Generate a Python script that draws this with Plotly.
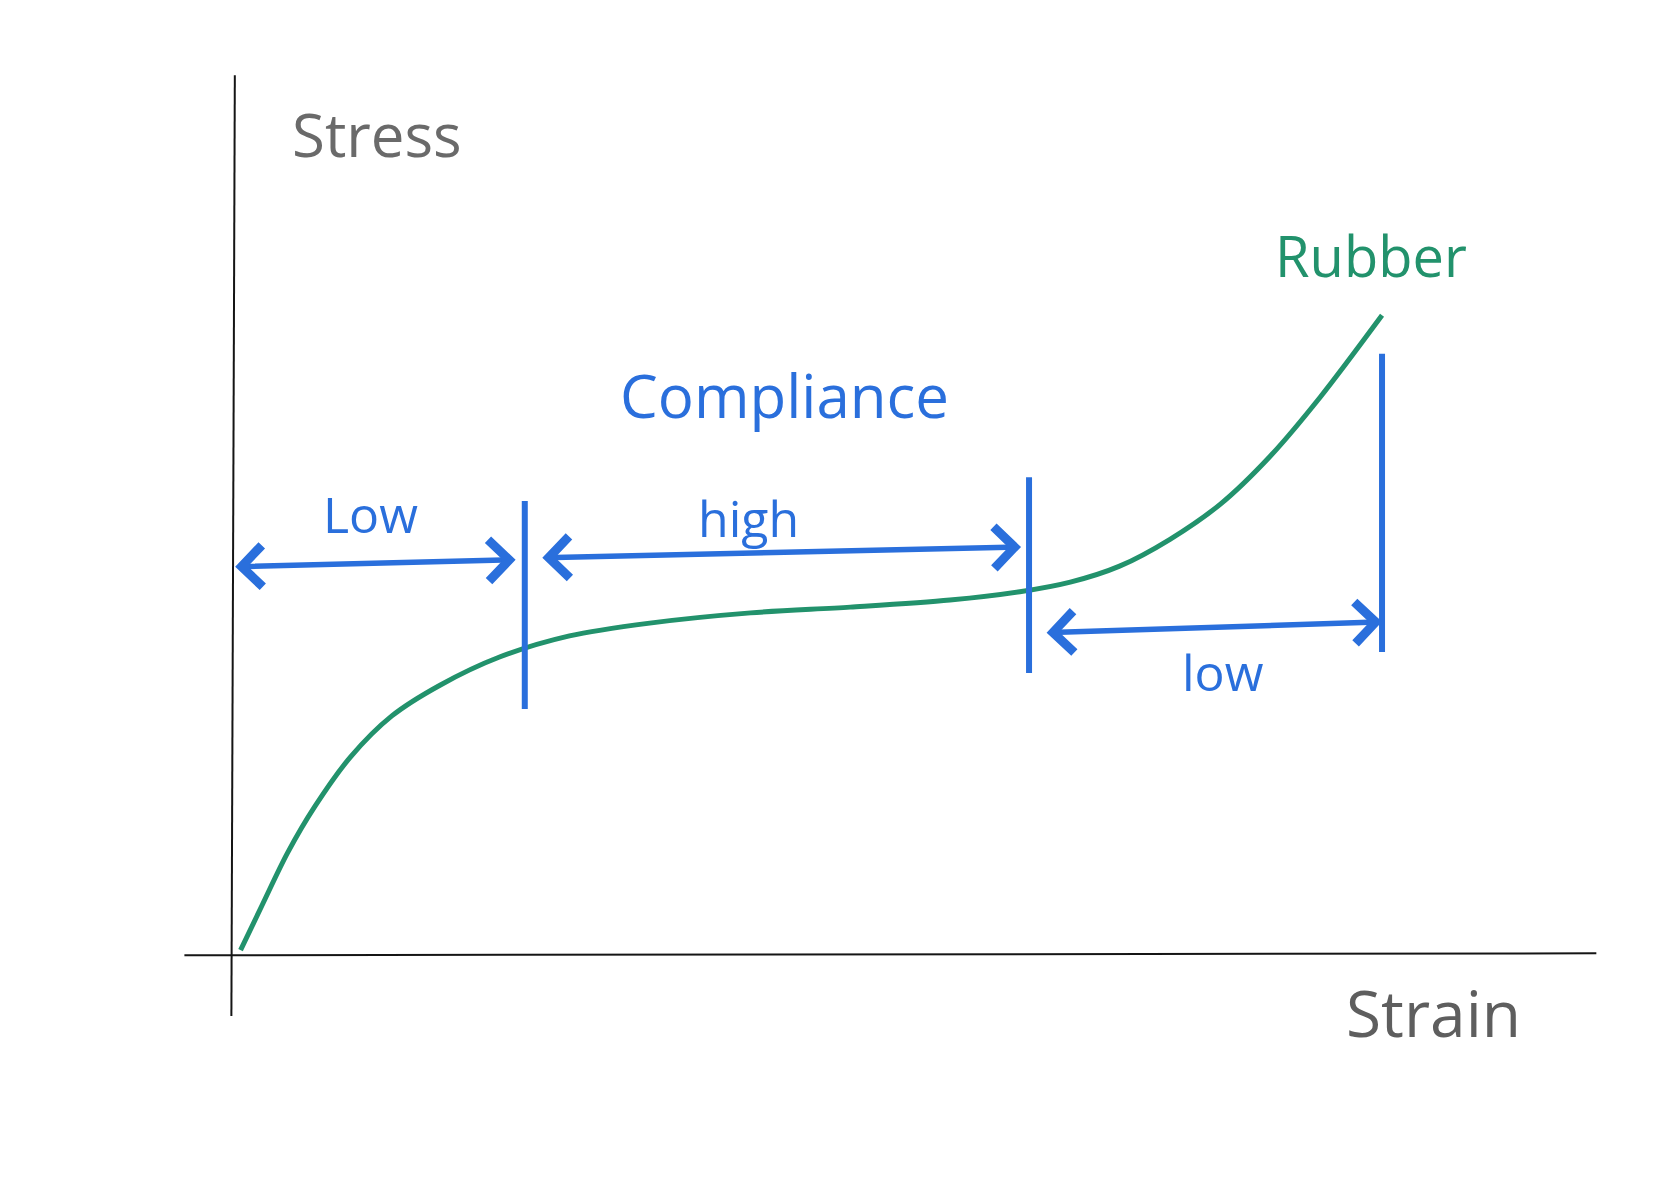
import plotly.graph_objects as go

# ---- data (normalised strain / stress units) ----
strain = [0.004, 0.023, 0.045, 0.069, 0.100, 0.136, 0.178, 0.230, 0.291, 0.361,
          0.449, 0.536, 0.623, 0.684, 0.728, 0.771, 0.815, 0.859, 0.902, 0.946,
          1.000]
stress = [0.006, 0.077, 0.158, 0.231, 0.308, 0.372, 0.420, 0.464, 0.497, 0.517,
          0.533, 0.542, 0.553, 0.566, 0.581, 0.606, 0.648, 0.703, 0.777, 0.870,
          0.998]

# region boundaries (vertical marks)
boundary_x = [0.252, 0.692, 1.000]
boundary_y0 = [0.383, 0.439, 0.472]
boundary_y1 = [0.708, 0.745, 0.938]

# compliance regions (double arrows + labels)
region_labels = ["Low", "high", "low"]
region_x0 = [-0.002, 0.266, 0.706]
region_x1 = [0.244, 0.685, 1.000]
region_y0 = [0.605, 0.619, 0.502]
region_y1 = [0.616, 0.636, 0.519]
label_x = [0.117, 0.447, 0.861]
label_y = [0.688, 0.681, 0.441]

# axis extents
x_axis_range = [-0.045, 1.187]
y_axis_range = [-0.097, 1.373]

BLUE = "#2a6fdc"
GREEN = "#22926c"
GRAY = "#5e5e5e"
FONT = "Open Sans"

fig = go.Figure()

# hand-drawn style axes
fig.add_trace(go.Scatter(x=x_axis_range, y=[-0.002, 0.001], mode="lines",
                         line=dict(color="#151515", width=2), hoverinfo="skip"))
fig.add_trace(go.Scatter(x=[-0.004, -0.001], y=y_axis_range, mode="lines",
                         line=dict(color="#151515", width=2), hoverinfo="skip"))

# rubber stress-strain curve
fig.add_trace(go.Scatter(x=strain, y=stress, mode="lines",
                         line=dict(color=GREEN, width=5, shape="spline", smoothing=0.9),
                         hoverinfo="skip"))

# vertical boundary marks
for bx, b0, b1 in zip(boundary_x, boundary_y0, boundary_y1):
    fig.add_trace(go.Scatter(x=[bx, bx], y=[b0, b1], mode="lines",
                             line=dict(color=BLUE, width=6), hoverinfo="skip"))

# double arrows
for x0, x1, y0, y1 in zip(region_x0, region_x1, region_y0, region_y1):
    fig.add_annotation(x=x1, y=y1, ax=x0, ay=y0, xref="x", yref="y",
                       axref="x", ayref="y", text="", showarrow=True,
                       arrowhead=4, startarrowhead=4, arrowside="end+start",
                       arrowsize=1.45, startarrowsize=1.45, arrowwidth=5.5,
                       arrowcolor=BLUE, standoff=0, startstandoff=0)

# region labels
for lab, lx, ly in zip(region_labels, label_x, label_y):
    fig.add_annotation(x=lx, y=ly, xref="x", yref="y", text=lab, showarrow=False,
                       font=dict(family=FONT, size=50, color=BLUE))

fig.add_annotation(x=0.479, y=0.873, xref="x", yref="y", text="Compliance",
                   showarrow=False, font=dict(family=FONT, size=60, color=BLUE))
fig.add_annotation(x=0.990, y=1.092, xref="x", yref="y", text="Rubber",
                   showarrow=False, font=dict(family=FONT, size=56, color=GREEN))
fig.add_annotation(x=0.123, y=1.281, xref="x", yref="y", text="Stress",
                   showarrow=False, font=dict(family=FONT, size=60, color="#6a6a6a"))
fig.add_annotation(x=1.045, y=-0.091, xref="x", yref="y", text="Strain",
                   showarrow=False, font=dict(family=FONT, size=64, color=GRAY))

fig.update_layout(
    width=1680, height=1188,
    margin=dict(l=0, r=0, t=0, b=0),
    paper_bgcolor="white", plot_bgcolor="white",
    showlegend=False,
    xaxis=dict(range=[-0.2059, 1.2600], visible=False, fixedrange=True),
    yaxis=dict(range=[-0.3656, 1.4906], visible=False, fixedrange=True),
)

fig.write_html("out.html", config={"displayModeBar": False},
               post_script="document.body.style.margin='0px';")
